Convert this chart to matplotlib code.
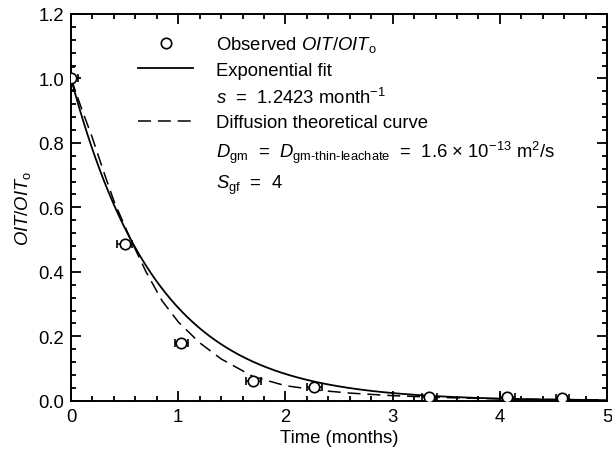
import numpy as np
import matplotlib
matplotlib.use("Agg")
import matplotlib.pyplot as plt
from matplotlib.lines import Line2D
from matplotlib.ticker import MultipleLocator, FormatStrFormatter

plt.rcParams['font.family'] = ['Liberation Sans', 'DejaVu Sans']
plt.rcParams['mathtext.fontset'] = 'custom'
plt.rcParams['mathtext.rm'] = 'Liberation Sans'
plt.rcParams['mathtext.it'] = 'Liberation Sans:italic'
plt.rcParams['mathtext.bf'] = 'Liberation Sans:bold'

# Observed OIT/OITo with measurement uncertainty
time_obs = [0.0, 0.50, 1.03, 1.70, 2.27, 3.34, 4.07, 4.58]
oit_obs = [1.0, 0.487, 0.178, 0.062, 0.043, 0.013, 0.011, 0.009]
time_err = [0.07, 0.07, 0.06, 0.07, 0.07, 0.07, 0.07, 0.06]
oit_err = [0.035, 0.0, 0.0, 0.0, 0.0, 0.0, 0.0, 0.0]

# Exponential fit rate (month^-1)
s_rate = 1.2423

# Diffusion theoretical curve
time_diff = [0.0, 0.1, 0.2, 0.3, 0.4, 0.55, 0.7, 0.85, 1.0, 1.2, 1.4, 1.7,
             2.0, 2.3, 2.6, 3.0, 3.5, 4.0, 4.5, 5.0]
oit_diff = [1.0, 0.905, 0.815, 0.715, 0.62, 0.505, 0.40, 0.31, 0.245, 0.18,
            0.13, 0.075, 0.047, 0.033, 0.024, 0.016, 0.010, 0.006, 0.004, 0.003]

x_ticks = [0, 1, 2, 3, 4, 5]
y_ticks = [0.0, 0.2, 0.4, 0.6, 0.8, 1.0, 1.2]

FS = 13.3

fig = plt.figure(figsize=(6.12, 4.52), dpi=100)
ax = fig.add_axes([0.116, 0.111, 0.876, 0.856])

dash_pattern = (8.5, 4.5)

t_fit = np.linspace(0, 5, 400)
ax.plot(t_fit, np.exp(-s_rate * t_fit), color='black', lw=1.3)
ax.plot(time_diff, oit_diff, color='black', lw=1.1, dashes=dash_pattern)

ax.errorbar(time_obs, oit_obs, xerr=time_err, yerr=oit_err, fmt='o',
            mfc='white', mec='black', ms=7.5, mew=1.2, ecolor='black',
            elinewidth=1.1, capsize=3, capthick=1.1, zorder=5)

ax.set_xlim(0, 5)
ax.set_ylim(0, 1.2)
ax.set_xticks(x_ticks)
ax.set_yticks(y_ticks)
ax.yaxis.set_major_formatter(FormatStrFormatter('%.1f'))
ax.xaxis.set_minor_locator(MultipleLocator(0.2))
ax.yaxis.set_minor_locator(MultipleLocator(0.04))
ax.tick_params(which='both', direction='in', top=True, right=True,
               labelsize=FS, width=1.3, colors='black')
ax.tick_params(which='major', length=7, pad=5)
ax.tick_params(which='minor', length=3.5)
for sp in ax.spines.values():
    sp.set_linewidth(1.4)

ax.set_xlabel('Time (months)', fontsize=FS, labelpad=3)
ax.set_ylabel(r'$\it{OIT/OIT}_{\rm o}$', fontsize=FS, labelpad=4)

blank = Line2D([], [], color='none')
handles = [
    Line2D([], [], ls='none', marker='o', mfc='white', mec='black', ms=7.5, mew=1.2),
    Line2D([], [], color='black', lw=1.3),
    blank,
    Line2D([], [], color='black', lw=1.1, dashes=dash_pattern),
    blank,
    blank,
]
labels = [
    r'Observed $\it{OIT/OIT}_{\rm o}$',
    'Exponential fit',
    r'$s$  =  1.2423 month$^{-1}$',
    'Diffusion theoretical curve',
    r'$D_{\rm gm}$  =  $D_{\text{gm-thin-leachate}}$  =  1.6 $\times$ 10$^{-13}$ m$^2$/s',
    r'$S_{\rm gf}$  =  4',
]
ax.legend(handles, labels, loc='upper left', bbox_to_anchor=(0.125, 0.948),
          frameon=False, fontsize=FS, handlelength=3.0, handletextpad=1.2,
          labelspacing=0.42, borderpad=0, borderaxespad=0)

fig.savefig('out.png', dpi=100)
